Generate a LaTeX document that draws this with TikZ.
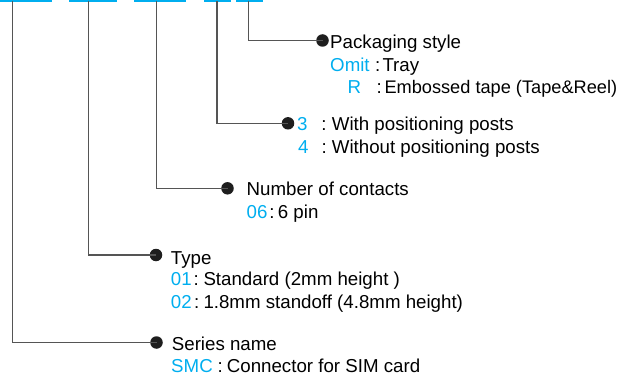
\documentclass[tikz,border=0pt]{standalone}
\usepackage{fontspec}
\setmainfont{Liberation Sans}
\definecolor{codeblue}{RGB}{0,174,239}
\definecolor{linegray}{RGB}{85,85,85}
\definecolor{dotblack}{RGB}{30,30,30}
\begin{document}
\begin{tikzpicture}[x=1pt,y=-1pt,
  leader/.style={draw=linegray,line width=1.3pt},
  bullet/.style={circle,fill=dotblack,inner sep=0pt,minimum size=12.5pt},
  lbl/.style={anchor=base west,inner sep=0pt,text=black,font=\fontsize{18.7}{22}\selectfont},
  codetxt/.style={lbl,text=codeblue},
  bar/.style={fill=codeblue,draw=none}]
\useasboundingbox (0,0) rectangle (621,377);
% blue bars
\fill[bar] (0,0) rectangle (51.7,1.6);
\fill[bar] (69,0) rectangle (116.7,1.6);
\fill[bar] (134.3,0) rectangle (185.7,1.6);
\fill[bar] (204,0) rectangle (231,1.6);
\fill[bar] (236.3,0) rectangle (263.3,1.6);
% top coordinates
\coordinate (t1) at (12.7,1);
\coordinate (t2) at (88.3,1);
\coordinate (t3) at (156.3,1);
\coordinate (t4) at (217,1);
\coordinate (t5) at (248.7,1);
% dots
\node[bullet] (d5) at (322.5,40.5) {};
\node[bullet] (d4) at (288,123.3) {};
\node[bullet] (d3) at (227.5,188.3) {};
\node[bullet] (d2) at (156,255) {};
\node[bullet] (d1) at (156.5,342.5) {};
% connectors
\draw[leader] (t5) |- (d5.center);
\draw[leader] (t4) |- (d4.center);
\draw[leader] (t3) |- (d3.center);
\draw[leader] (t2) |- (d2.center);
\draw[leader] (t1) |- (d1.center);
% packaging style
\node[lbl] (p0) at (330,49) {Packaging style};
\node[codetxt] (p1a) at (330,71.5) {Omit};
\node[lbl] (p1c) at (374.8,71.5) {:};
\node[lbl] (p1b) at (382.3,71.5) {Tray};
\node[codetxt] (p2a) at (347.3,94) {R};
\node[lbl] (p2c) at (376.5,94) {:};
\node[lbl,font=\fontsize{18.2}{22}\selectfont] (p2b) at (384.3,94) {Embossed tape (Tape\&Reel)};
% positioning posts
\node[codetxt] (q1a) at (297,130.7) {3};
\node[lbl] (q1c) at (321.2,130.7) {:};
\node[lbl] (q1b) at (331.7,130.7) {With positioning posts};
\node[codetxt] (q2a) at (298,153.3) {4};
\node[lbl] (q2c) at (321.5,153.3) {:};
\node[lbl] (q2b) at (331.7,153.3) {Without positioning posts};
% contacts
\node[lbl] (c1c0) at (246.5,195.7) {Number of contacts};
\node[codetxt] (c1a) at (246.5,218) {06};
\node[lbl] (c1c) at (269.2,218) {:};
\node[lbl] (c1b) at (277.7,218) {6 pin};
% type
\node[lbl] (y0) at (170.7,264) {Type};
\node[codetxt] (y1a) at (170.7,285.7) {01};
\node[lbl] (y1c) at (193.3,285.7) {:};
\node[lbl] (y1b) at (203.3,285.7) {Standard (2mm height )};
\node[codetxt] (y2a) at (170.7,308.3) {02};
\node[lbl] (y2c) at (193.8,308.3) {:};
\node[lbl] (y2b) at (203.3,308.3) {1.8mm standoff (4.8mm height)};
% series
\node[lbl] (s0) at (171.7,350) {Series name};
\node[codetxt] (s1a) at (171,372) {SMC};
\node[lbl] (s1c) at (217.5,372) {:};
\node[lbl] (s1b) at (226.7,372) {Connector for SIM card};
\end{tikzpicture}
\end{document}
